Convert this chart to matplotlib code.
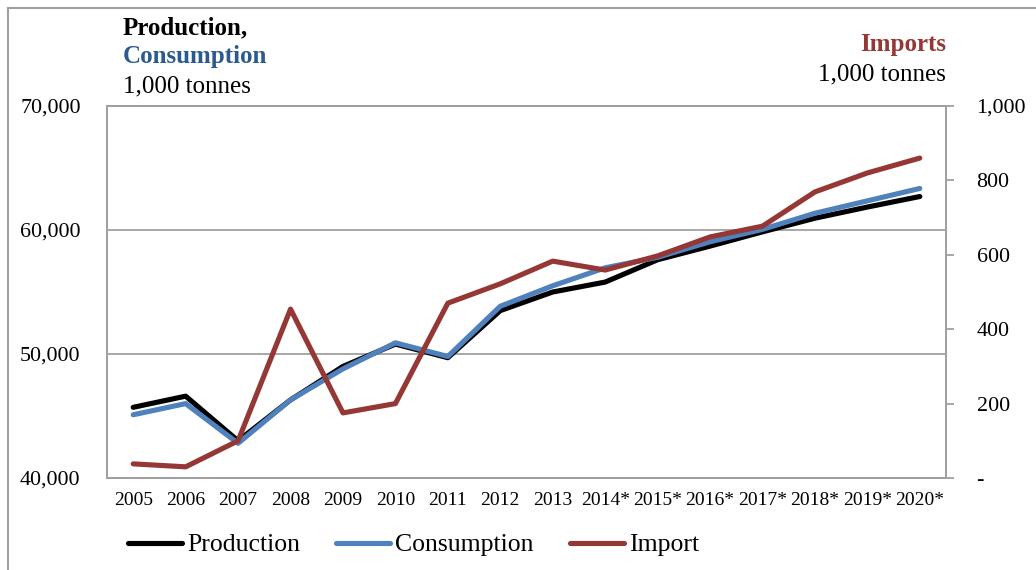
import matplotlib
matplotlib.use("Agg")
import matplotlib.pyplot as plt
from matplotlib.lines import Line2D
from matplotlib.ticker import FuncFormatter

years = ['2005', '2006', '2007', '2008', '2009', '2010', '2011', '2012', '2013',
         '2014*', '2015*', '2016*', '2017*', '2018*', '2019*', '2020*']
production = [45700, 46600, 43000, 46300, 49000, 50800, 49700, 53500, 55000,
              55800, 57600, 58700, 59850, 60950, 61850, 62700]
consumption = [45100, 46000, 42800, 46300, 48800, 50900, 49800, 53850, 55500,
               56950, 57800, 59050, 60050, 61350, 62350, 63350]
imports = [38, 30, 100, 454, 175, 200, 470, 522, 583,
           559, 597, 648, 677, 769, 820, 860]

plt.rcParams['font.family'] = ['Liberation Serif', 'DejaVu Serif']

grey = '#a0a0a0'
c_prod = 'black'
c_cons = '#4f81bd'
c_imp = '#953735'

fig = plt.figure(figsize=(10.36, 5.70), dpi=100)
ax = fig.add_axes([107/1036, 1 - 478/570, (946 - 107)/1036, (478 - 106)/570])
ax2 = ax.twinx()

x = list(range(len(years)))
l1, = ax.plot(x, production, color=c_prod, lw=3.7, solid_capstyle='round', label='Production', zorder=3)
l2, = ax.plot(x, consumption, color=c_cons, lw=3.7, solid_capstyle='round', label='Consumption', zorder=4)
l3, = ax2.plot(x, imports, color=c_imp, lw=3.7, solid_capstyle='round', label='Import', zorder=5)

ax.set_xlim(-0.5, len(years) - 0.5)
ax.set_ylim(40000, 70000)
ax.set_yticks([40000, 50000, 60000, 70000])
ax.yaxis.set_major_formatter(FuncFormatter(lambda v, p: f'{int(v):,}'))
ax.set_xticks(x)
ax.set_xticklabels(years)
ax.tick_params(axis='x', length=0, pad=10, labelsize=14)
ax.tick_params(axis='y', length=0, pad=19, labelsize=15.8)
ax.grid(axis='y', color=grey, lw=1.3)
ax.set_axisbelow(True)

ax2.set_ylim(0, 1000)
ax2.set_yticks([0, 200, 400, 600, 800, 1000])
ax2.yaxis.set_major_formatter(FuncFormatter(lambda v, p: '-' if v == 0 else f'{int(v):,}'))
ax2.tick_params(axis='y', direction='out', length=6, width=1.3, color=grey, pad=16, labelsize=15.8)

for a in (ax, ax2):
    for s in a.spines.values():
        s.set_color(grey)
        s.set_linewidth(1.3)

# titles
fig.text(123/1036, 1 - 28/570, 'Production,', fontsize=18, fontweight='bold', va='center', ha='left')
fig.text(123/1036, 1 - 57/570, 'Consumption', fontsize=18, fontweight='bold', color='#2b5a91', va='center', ha='left')
fig.text(123/1036, 1 - 86/570, '1,000 tonnes', fontsize=18, va='center', ha='left')
fig.text(946/1036, 1 - 45/570, 'Imports', fontsize=18, fontweight='bold', color=c_imp, va='center', ha='right')
fig.text(946/1036, 1 - 74/570, '1,000 tonnes', fontsize=18, va='center', ha='right')

fig.legend(handles=[l1, l2, l3], loc='center left', bbox_to_anchor=(128/1036, 1 - 545/570),
           ncol=3, frameon=False, fontsize=18.5, handlelength=2.1, handletextpad=0.2,
           columnspacing=1.4, borderaxespad=0, borderpad=0)

# outer frame
fig.add_artist(Line2D([8/1036, 8/1036], [0, 1 - 8/570], color=grey, lw=1.5, transform=fig.transFigure))
fig.add_artist(Line2D([8/1036, 1], [1 - 8/570, 1 - 8/570], color=grey, lw=1.5, transform=fig.transFigure))

fig.savefig('out.png', dpi=100)
